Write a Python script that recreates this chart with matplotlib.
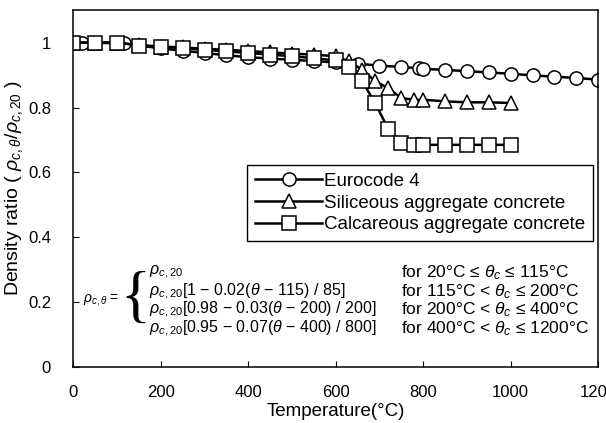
import numpy as np
import matplotlib
matplotlib.use('Agg')
import matplotlib.pyplot as plt

plt.rcParams['font.family'] = ['Liberation Sans', 'DejaVu Sans']
plt.rcParams['mathtext.fontset'] = 'custom'
plt.rcParams['mathtext.rm'] = 'Liberation Sans'
plt.rcParams['mathtext.it'] = 'Liberation Sans:italic'

# Eurocode 4 curve (circles)
ec_temp = [20, 115, 200, 250, 300, 350, 400, 450, 500, 550, 600, 650, 700,
           750, 790, 800, 850, 900, 950, 1000, 1050, 1100, 1150, 1200]
ec_ratio = [1.0, 0.998, 0.982, 0.975, 0.968, 0.961, 0.955, 0.951, 0.947, 0.943,
            0.939, 0.935, 0.929, 0.925, 0.921, 0.919, 0.916, 0.912, 0.908,
            0.904, 0.899, 0.895, 0.891, 0.886]

# siliceous aggregate (triangles)
sil_temp = [0, 50, 100, 150, 200, 250, 300, 350, 400, 450, 500, 550, 600, 630,
            660, 690, 720, 750, 780, 800, 850, 900, 950, 1000]
sil_ratio = [1.0, 1.0, 1.0, 0.992, 0.988, 0.985, 0.981, 0.978, 0.974, 0.970,
             0.966, 0.963, 0.958, 0.942, 0.917, 0.881, 0.860, 0.829, 0.824,
             0.824, 0.819, 0.816, 0.816, 0.814]

# calcareous aggregate (squares)
cal_temp = [0, 50, 100, 150, 200, 250, 300, 350, 400, 450, 500, 550, 600, 630,
            660, 690, 720, 750, 780, 800, 850, 900, 950, 1000]
cal_ratio = [1.0, 1.0, 1.0, 0.991, 0.987, 0.983, 0.978, 0.973, 0.968, 0.963,
             0.958, 0.952, 0.945, 0.924, 0.882, 0.814, 0.734, 0.692, 0.686,
             0.685, 0.685, 0.685, 0.685, 0.685]

x_ticks = [0, 200, 400, 600, 800, 1000, 1200]
y_ticks = [0, 0.2, 0.4, 0.6, 0.8, 1.0]
y_tick_labels = ['0', '0.2', '0.4', '0.6', '0.8', '1']

formula_rows = [r'$\rho_{c,20}$',
                r'$\rho_{c,20}$[1 $-$ 0.02($\theta$ $-$ 115) / 85]',
                r'$\rho_{c,20}$[0.98 $-$ 0.03($\theta$ $-$ 200) / 200]',
                r'$\rho_{c,20}$[0.95 $-$ 0.07($\theta$ $-$ 400) / 800]']
range_rows = [r'for 20°C ≤ $\theta_c$ ≤ 115°C',
              r'for 115°C < $\theta_c$ ≤ 200°C',
              r'for 200°C < $\theta_c$ ≤ 400°C',
              r'for 400°C < $\theta_c$ ≤ 1200°C']

fig = plt.figure(figsize=(6.06, 4.23), dpi=100)
ax = fig.add_axes([0.121, 0.132, 0.866, 0.844])

mk = dict(color='black', lw=1.8, markerfacecolor='white',
          markeredgecolor='black', markeredgewidth=1.1, markersize=9.5)
ax.plot(ec_temp, ec_ratio, marker='o', label='Eurocode 4', **mk)
ax.plot(sil_temp, sil_ratio, marker='^', label='Siliceous aggregate concrete', **mk)
ax.plot(cal_temp, cal_ratio, marker='s', label='Calcareous aggregate concrete', **mk)

ax.set_xlim(0, 1200)
ax.set_ylim(0, 1.1)
ax.set_xticks(x_ticks)
ax.set_yticks(y_ticks)
ax.set_yticklabels(y_tick_labels)
ax.tick_params(direction='in', length=4, labelsize=12)
ax.tick_params(axis='y', pad=16)
ax.tick_params(axis='x', pad=13)
for sp in ax.spines.values():
    sp.set_linewidth(1.1)

ax.set_xlabel('Temperature(°C)', fontsize=13.5, labelpad=2)
ax.set_ylabel(r'Density ratio ( $\rho_{c,\theta}/\rho_{c,20}$ )', fontsize=14,
              labelpad=2)

leg = ax.legend(loc='upper right', bbox_to_anchor=(0.99, 0.566), fontsize=13.5,
                fancybox=False, edgecolor='black', framealpha=1,
                handlelength=3.6, handletextpad=0.1, labelspacing=0.25,
                borderaxespad=0, borderpad=0.4)
leg.get_frame().set_linewidth(1.0)

# Eurocode formula
ax.text(0.018, 0.188, r'$\rho_{c,\theta}$ =', transform=ax.transAxes,
        fontsize=10, va='center', ha='left')
ax.text(0.089, 0.186, '{', transform=ax.transAxes, fontsize=45,
        va='center', ha='left', family='Liberation Serif')
row_y = [0.266, 0.212, 0.160, 0.107]
for fy, ftxt, rtxt in zip(row_y, formula_rows, range_rows):
    ax.text(0.145, fy, ftxt, transform=ax.transAxes, fontsize=11.5,
            va='center', ha='left')
    ax.text(0.624, fy, rtxt, transform=ax.transAxes, fontsize=12.5,
            va='center', ha='left')

fig.savefig('out.png', dpi=100)
